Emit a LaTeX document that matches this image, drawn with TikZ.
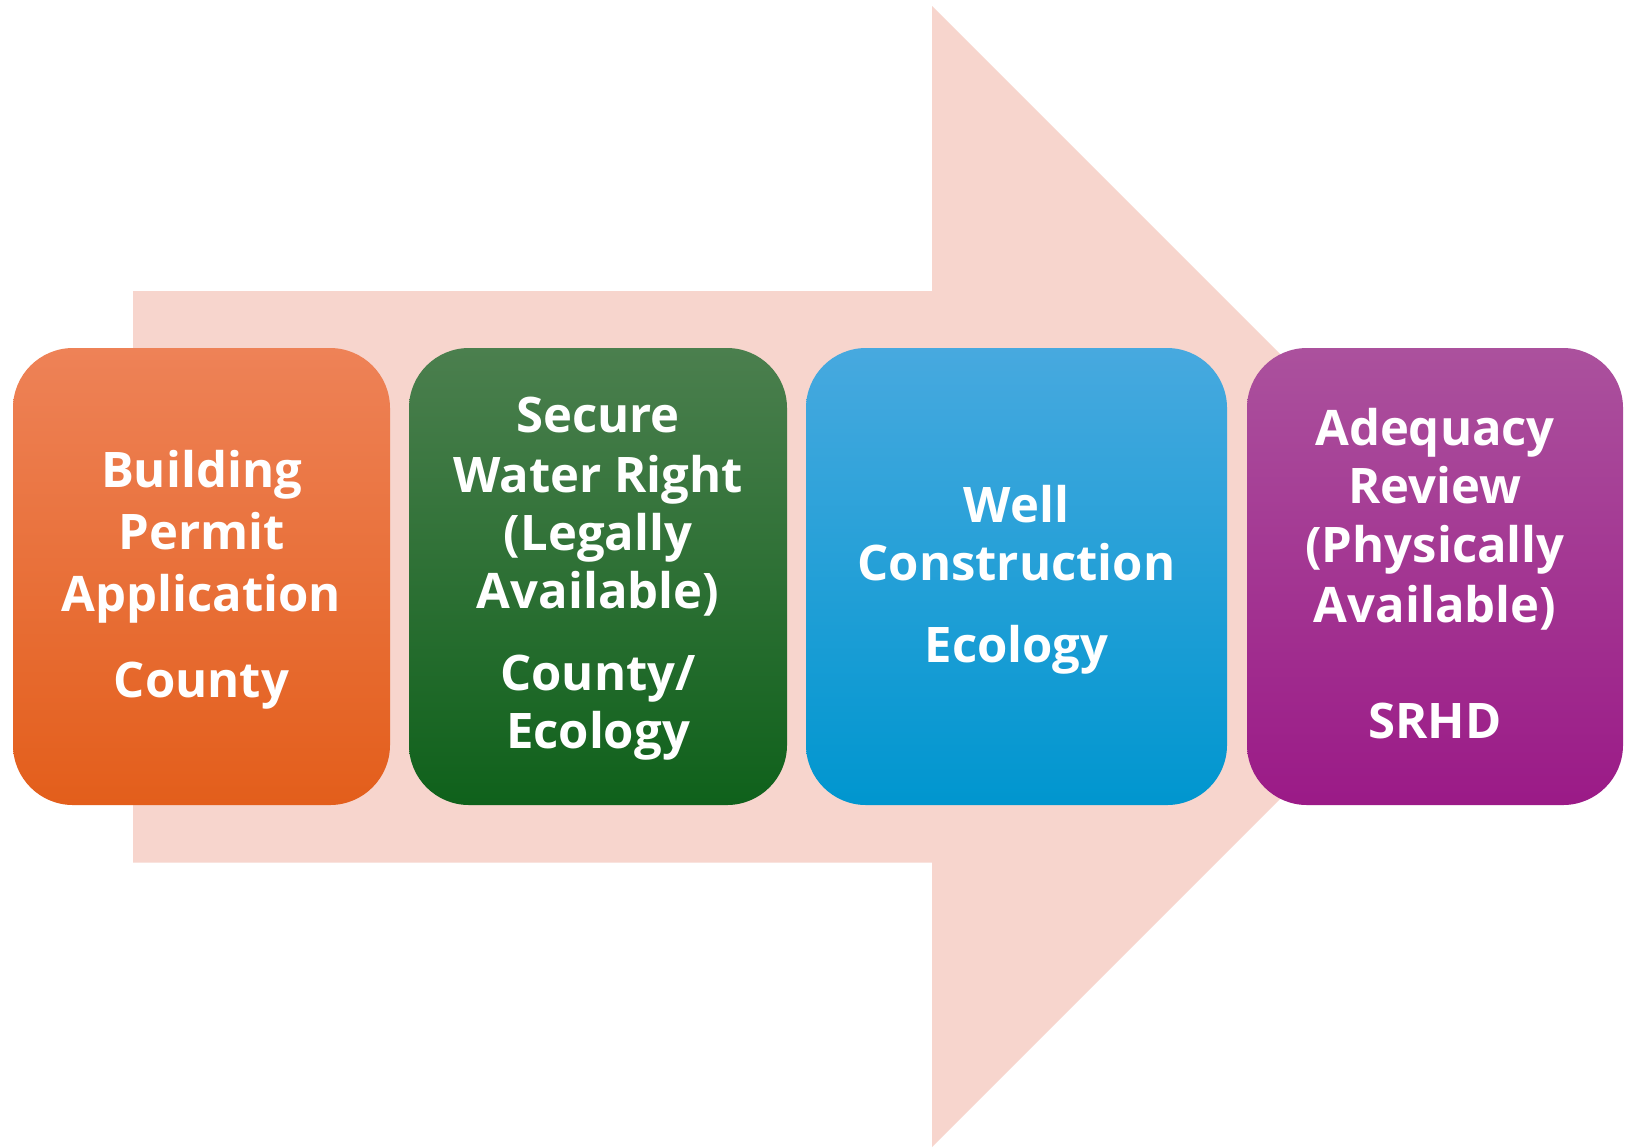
\documentclass[tikz,border=0pt]{standalone}
\usepackage{fontspec}
\setmainfont{Open Sans}[Ligatures={NoCommon}]
\definecolor{arrowpink}{HTML}{F7D5CD}
\definecolor{orT}{HTML}{EE8257}
\definecolor{orM}{HTML}{F07030}
\definecolor{orB}{HTML}{E35E1B}
\definecolor{grT}{HTML}{4B7F4E}
\definecolor{grM}{HTML}{176C22}
\definecolor{grB}{HTML}{0F611B}
\definecolor{blT}{HTML}{47A9DF}
\definecolor{blM}{HTML}{09A2DE}
\definecolor{blB}{HTML}{0096CF}
\definecolor{puT}{HTML}{AB519D}
\definecolor{puM}{HTML}{A3238F}
\definecolor{puB}{HTML}{9B1A87}
\begin{document}
\begin{tikzpicture}[x=0.5pt,y=-0.5pt,
  stepbox/.style={rectangle, rounded corners=30pt, minimum height=228.5pt, inner sep=0pt, draw=none},
  lbl/.style={anchor=base, inner sep=0pt, text=white, font=\fontsize{24.5}{29}\selectfont\bfseries}]
\useasboundingbox (0,0) rectangle (1626,1147);
\fill[white] (0,0) rectangle (1626,1147);
% big arrow
\fill[arrowpink] (133,291) -- (932,291) -- (932,6) -- (1502.5,576.5) -- (932,1147) -- (932,862.5) -- (133,862.5) -- cycle;
% boxes
\node[stepbox, minimum width=188.5pt, top color=orT, middle color=orM, bottom color=orB] (b1) at (201.5,576.5) {};
\node[stepbox, minimum width=189pt, top color=grT, middle color=grM, bottom color=grB] (b2) at (598,576.5) {};
\node[stepbox, minimum width=210.5pt, top color=blT, middle color=blM, bottom color=blB] (b3) at (1016.5,576.5) {};
\node[stepbox, minimum width=188pt, top color=puT, middle color=puM, bottom color=puB] (b4) at (1435,576.5) {};
% box 1 text
\node[lbl] (t11) at (201.5,487) {Building};
\node[lbl] (t12) at (201.5,549) {Permit};
\node[lbl] (t13) at (201.5,611) {Application};
\node[lbl] (t14) at (201.5,697) {County};
% box 2 text
\node[lbl] (t21) at (598,432) {Secure};
\node[lbl] (t22) at (598,492) {Water Right};
\node[lbl] (t23) at (598,550) {(Legally};
\node[lbl] (t24) at (598,608) {Available)};
\node[lbl] (t25) at (598,690) {County/};
\node[lbl] (t26) at (598,748) {Ecology};
% box 3 text
\node[lbl] (t31) at (1016.5,522) {Well};
\node[lbl] (t32) at (1016.5,580) {Construction};
\node[lbl] (t33) at (1016.5,662) {Ecology};
% box 4 text
\node[lbl] (t41) at (1435,445) {Adequacy};
\node[lbl] (t42) at (1435,503) {Review};
\node[lbl] (t43) at (1435,562) {(Physically};
\node[lbl] (t44) at (1435,622) {Available)};
\node[lbl] (t45) at (1435,738) {SRHD};
\end{tikzpicture}
\end{document}
